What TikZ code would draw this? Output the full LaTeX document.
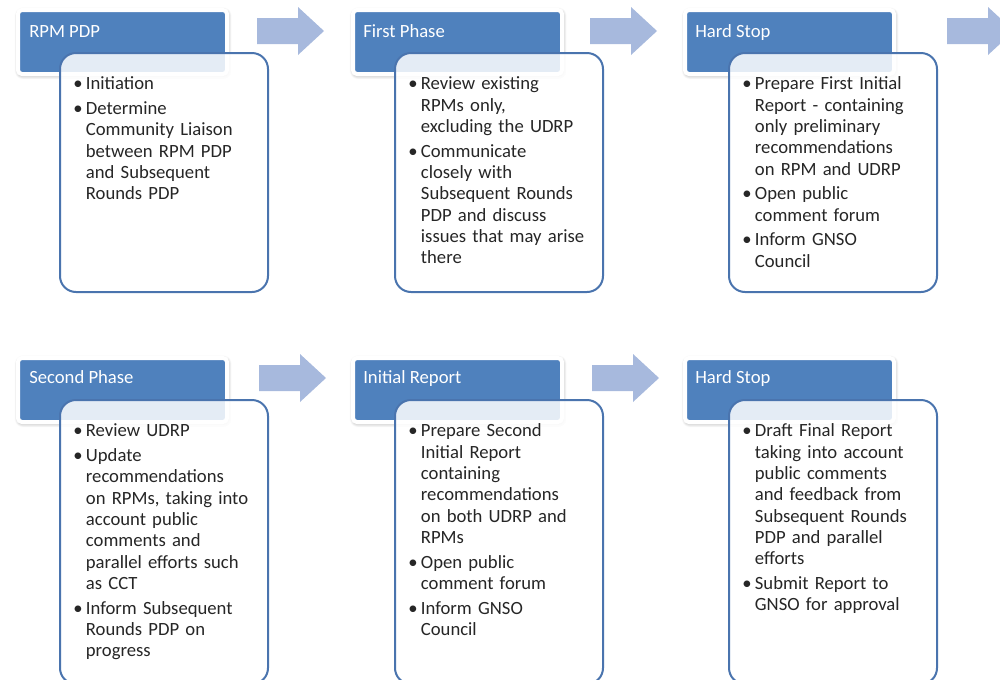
\documentclass[tikz,border=0pt]{standalone}
\usepackage{fontspec}
\setmainfont{Carlito}
\usetikzlibrary{shadows.blur}

\definecolor{hdrblue}{RGB}{79,129,189}
\definecolor{boxline}{RGB}{74,116,174}
\definecolor{arrowblue}{RGB}{167,185,221}
\definecolor{listgray}{RGB}{38,38,38}

% one bullet point with hanging indent
\newcommand{\bul}[1]{\par\hangindent=9.5pt\hangafter=1\noindent\makebox[9.5pt][l]{\strut\textbullet}#1\par}

\tikzset{
  phasehead/.style={draw=white, line width=3pt, fill=hdrblue, rounded corners=3pt,
    minimum width=156.75pt, minimum height=48pt, inner sep=0pt, outer sep=0pt, anchor=north west,
    blur shadow={shadow xshift=0.5pt, shadow yshift=-1pt, shadow blur radius=3pt,
      shadow blur steps=8, shadow opacity=45}},
  headtext/.style={text=white, anchor=base west, inner sep=0pt, font=\fontsize{14pt}{16pt}\selectfont},
  phasebody/.style={draw=boxline, line width=1.5pt, fill=white, fill opacity=0.85, rounded corners=12pt,
    minimum width=156pt, inner sep=0pt, outer sep=0pt, anchor=north west},
  bodylist/.style={anchor=north west, inner sep=0pt, text width=150pt, align=left, text=listgray,
    font=\fontsize{14pt}{16pt}\selectfont, execute at begin node={\setlength{\parskip}{2.5pt}}},
  phasearrow/.style={fill=arrowblue}
}

\begin{document}
\begin{tikzpicture}[x=0.75pt, y=-0.75pt]
  \useasboundingbox (0,0) rectangle (1000,679);

  % arrows between the phases
  \foreach \ax/\ay in {257/31, 590/31, 947/31, 259/378, 592/378}
    \fill[phasearrow] (\ax,\ay) ++(0,-13) -- ++(41,0) -- ++(0,-11) -- ++(26,24)
      -- ++(-26,24) -- ++(0,-11) -- ++(-41,0) -- cycle;

  % top row
  \node[phasehead] (hdr1) at (18,10) {};
  \node[phasehead] (hdr2) at (353,10) {};
  \node[phasehead] (hdr3) at (685,10) {};
  \node[headtext] at ([shift={(11,27)}]hdr1.north west) {RPM PDP};
  \node[headtext] at ([shift={(10,27)}]hdr2.north west) {First Phase};
  \node[headtext] at ([shift={(10,27)}]hdr3.north west) {Hard Stop};

  \node[phasebody, minimum height=179.25pt] (box1) at (60,53) {};
  \node[phasebody, minimum height=179.25pt] (box2) at (395,53) {};
  \node[phasebody, minimum height=179.25pt] (box3) at (729,53) {};

  \node[bodylist] (txt1) at ([shift={(13,12)}]box1.north west) {%
    \bul{Initiation}
    \bul{Determine\newline Community Liaison\newline between RPM PDP\newline and Subsequent\newline Rounds PDP}};
  \node[bodylist] (txt2) at ([shift={(13,12)}]box2.north west) {%
    \bul{Review existing\newline RPMs only,\newline excluding the UDRP}
    \bul{Communicate\newline closely with\newline Subsequent Rounds\newline PDP and discuss\newline issues that may arise\newline there}};
  \node[bodylist] (txt3) at ([shift={(13,12)}]box3.north west) {%
    \bul{Prepare First Initial\newline Report - containing\newline only preliminary\newline recommendations\newline on RPM and UDRP}
    \bul{Open public\newline comment forum}
    \bul{Inform GNSO\newline Council}};

  % bottom row
  \node[phasehead] (hdr4) at (18,358) {};
  \node[phasehead] (hdr5) at (353,358) {};
  \node[phasehead] (hdr6) at (685,358) {};
  \node[headtext] at ([shift={(11,25)}]hdr4.north west) {Second Phase};
  \node[headtext] at ([shift={(10,25)}]hdr5.north west) {Initial Report};
  \node[headtext] at ([shift={(10,25)}]hdr6.north west) {Hard Stop};

  \node[phasebody, minimum height=213pt] (box4) at (60,400) {};
  \node[phasebody, minimum height=213pt] (box5) at (395,400) {};
  \node[phasebody, minimum height=213pt] (box6) at (729,400) {};

  \node[bodylist] (txt4) at ([shift={(13,12)}]box4.north west) {%
    \bul{Review UDRP}
    \bul{Update\newline recommendations\newline on RPMs, taking into\newline account public\newline comments and\newline parallel efforts such\newline as CCT}
    \bul{Inform Subsequent\newline Rounds PDP on\newline progress}};
  \node[bodylist] (txt5) at ([shift={(13,12)}]box5.north west) {%
    \bul{Prepare Second\newline Initial Report\newline containing\newline recommendations\newline on both UDRP and\newline RPMs}
    \bul{Open public\newline comment forum}
    \bul{Inform GNSO\newline Council}};
  \node[bodylist] (txt6) at ([shift={(13,12)}]box6.north west) {%
    \bul{Draft Final Report\newline taking into account\newline public comments\newline and feedback from\newline Subsequent Rounds\newline PDP and parallel\newline efforts}
    \bul{Submit Report to\newline GNSO for approval}};
\end{tikzpicture}
\end{document}
